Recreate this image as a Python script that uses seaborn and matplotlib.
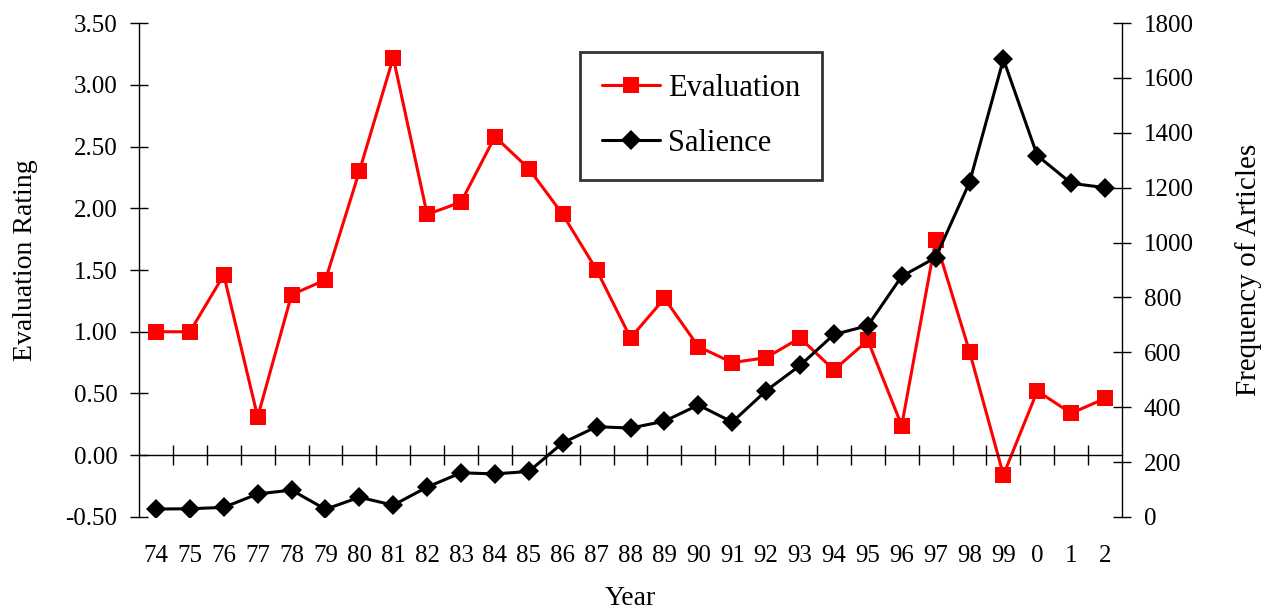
"""Evaluation rating vs. salience (frequency of articles) by year."""

import matplotlib
matplotlib.use('Agg')
import matplotlib.pyplot as plt
import numpy as np
import pandas as pd
import seaborn as sns

years = ['74', '75', '76', '77', '78', '79', '80', '81', '82', '83', '84', '85',
         '86', '87', '88', '89', '90', '91', '92', '93', '94', '95', '96', '97',
         '98', '99', '0', '1', '2']
evaluation = [1.00, 1.00, 1.46, 0.31, 1.30, 1.42, 2.30, 3.22, 1.95, 2.05, 2.58, 2.32,
              1.95, 1.50, 0.95, 1.27, 0.88, 0.75, 0.79, 0.95, 0.69, 0.93, 0.24, 1.74,
              0.84, -0.16, 0.52, 0.34, 0.46]
salience = [29, 30, 35, 84, 98, 28, 72, 43, 109, 161, 157, 166,
            270, 329, 324, 349, 408, 346, 460, 552, 665, 697, 877, 945,
            1219, 1668, 1317, 1216, 1200]

FONT = ['Liberation Serif', 'DejaVu Serif']


def main():
    sns.set_theme(style='white')
    plt.rcParams['font.family'] = FONT
    plt.rcParams['text.color'] = 'black'
    plt.rcParams['axes.labelcolor'] = 'black'
    plt.rcParams['xtick.color'] = 'black'
    plt.rcParams['ytick.color'] = 'black'

    df = pd.DataFrame({
        'pos': np.arange(len(years)),
        'year': years,
        'Evaluation': evaluation,
        'Salience': salience,
    })

    fig = plt.figure(figsize=(12.71, 6.09), dpi=100)
    ax = fig.add_axes([0.1094, 0.1511, 0.7734, 0.8111])
    ax2 = ax.twinx()

    sns.lineplot(data=df, x='pos', y='Evaluation', ax=ax, color='#ff0000',
                 marker='s', markersize=12, markeredgewidth=0, linewidth=2.2,
                 label='Evaluation', legend=False)
    sns.lineplot(data=df, x='pos', y='Salience', ax=ax2, color='black',
                 marker='D', markersize=10, markeredgewidth=0, linewidth=2.2,
                 label='Salience', legend=False)

    # left axis
    ax.set_xlim(-0.5, len(years) - 0.5)
    ax.set_ylim(-0.5, 3.5)
    yt = np.arange(-0.5, 3.51, 0.5)
    ax.set_yticks(yt, labels=[f'{v:.2f}' for v in yt])
    ax.tick_params(axis='y', direction='inout', length=13, width=1,
                   labelsize=18, pad=9, left=True)
    ax.set_ylabel('Evaluation Rating', fontsize=20, labelpad=20)
    ax.yaxis.label.set_y(0.52)

    # x axis line through zero, with ticks between the categories
    ax.spines['bottom'].set_position(('data', 0))
    ax.spines['top'].set_visible(False)
    ax.spines['right'].set_visible(False)
    for sp in ax.spines.values():
        sp.set_color('black')
        sp.set_linewidth(1)
    ax.set_xticks(np.arange(0.5, len(years) - 0.5, 1), labels=[])
    ax.tick_params(axis='x', direction='inout', length=14, width=1, bottom=True)
    ax.set_xlabel('')

    sec = ax.secondary_xaxis('bottom')
    sec.set_xticks(df['pos'], labels=years)
    sec.tick_params(length=0, labelsize=18, pad=20)
    sec.spines['bottom'].set_visible(False)
    sec.set_xlabel('Year', fontsize=20, labelpad=14)

    # right axis
    ax2.set_ylim(0, 1800)
    ax2.set_yticks(np.arange(0, 1801, 200))
    ax2.tick_params(axis='y', direction='inout', length=13, width=1,
                    labelsize=18, pad=9, right=True)
    ax2.set_ylabel('Frequency of Articles', fontsize=21, labelpad=30)
    for name in ['top', 'left', 'bottom']:
        ax2.spines[name].set_visible(False)
    ax2.spines['right'].set_color('black')
    ax2.spines['right'].set_linewidth(1)

    handles1, labels1 = ax.get_legend_handles_labels()
    handles2, labels2 = ax2.get_legend_handles_labels()
    leg = ax2.legend(handles1 + handles2, labels1 + labels2,
                     loc='upper left', bbox_to_anchor=(0.449, 0.941),
                     fontsize=22, frameon=True, fancybox=False,
                     handlelength=1.9, handletextpad=0.25, labelspacing=0.85,
                     borderpad=0.72, borderaxespad=0)
    leg.get_frame().set_edgecolor('black')
    leg.get_frame().set_linewidth(2)

    fig.savefig('out.png', dpi=100)
    plt.close(fig)


if __name__ == '__main__':
    main()
